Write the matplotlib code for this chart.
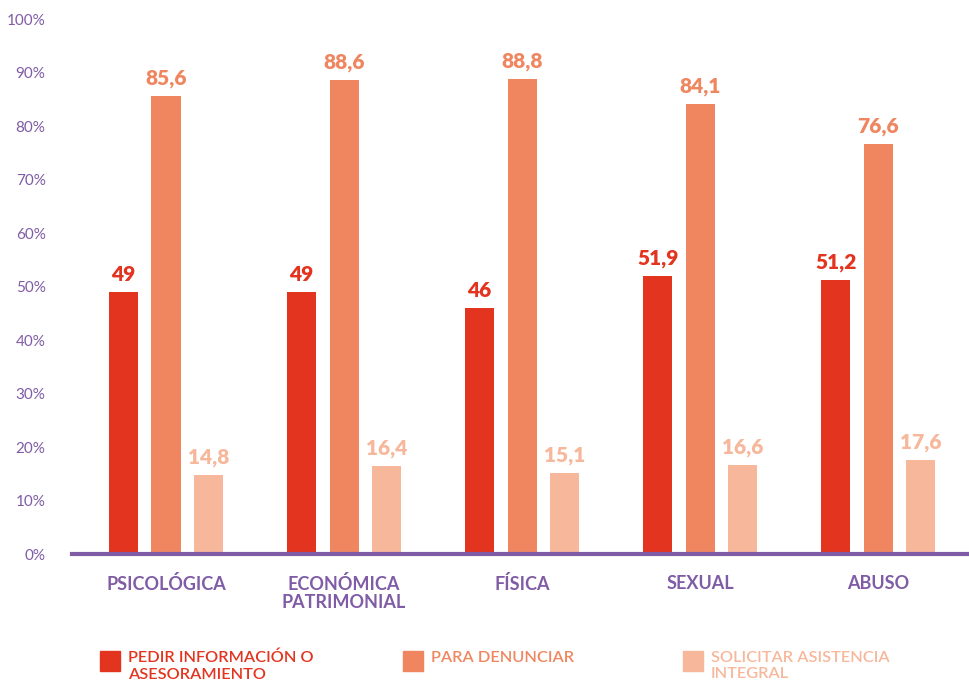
""" Motivos de consulta por tipo de violencia - barras agrupadas """

import numpy as np
import matplotlib
matplotlib.use("Agg")
import matplotlib.pyplot as plt
from matplotlib.patches import Rectangle

# data
categorias   = ["PSICOLÓGICA", "ECONÓMICA\nPATRIMONIAL", "FÍSICA", "SEXUAL", "ABUSO"]
pedir_info   = [49, 49, 46, 51.9, 51.2]
denunciar    = [85.6, 88.6, 88.8, 84.1, 76.6]
asistencia   = [14.8, 16.4, 15.1, 16.6, 17.6]
series_names = ["PEDIR INFORMACIÓN O\nASESORAMIENTO", "PARA DENUNCIAR",
                "SOLICITAR ASISTENCIA\nINTEGRAL"]
y_ticks      = [0, 10, 20, 30, 40, 50, 60, 70, 80, 90, 100]

RED    = "#E3341F"
ORANGE = "#EF8660"
PEACH  = "#F7B79B"
PURPLE = "#7F5CA5"
FONT   = "Lato"

plt.rcParams["font.family"] = [FONT, "DejaVu Sans"]

fig = plt.figure(figsize=(9.69, 6.9), dpi=100)
ax  = fig.add_axes([0.0743, 0.197, 0.9257, 0.7754])

x      = np.arange(len(categorias))
width  = 0.163
offset = 0.239
colors = [RED, ORANGE, PEACH]

for i, (vals, col) in enumerate(zip([pedir_info, denunciar, asistencia], colors)):
    pos  = x + (i - 1) * offset
    bars = ax.bar(pos, vals, width, color=col, zorder=2)
    for b, v in zip(bars, vals):
        txt = ("%g" % v).replace(".", ",")
        ax.text(b.get_x() + b.get_width() / 2, v + 1.5, txt, ha="center",
                va="bottom", color=col, fontsize=15, fontweight="heavy")

ax.set_xlim(-0.528, 4.51)
ax.set_ylim(0, 100)
ax.set_yticks(y_ticks)
ax.set_yticklabels(["%d%%" % t for t in y_ticks], color=PURPLE, fontsize=11)
ax.set_xticks(x)
ax.set_xticklabels(categorias, color=PURPLE, fontsize=13, fontweight="bold",
                   linespacing=1.05, va="top")
ax.tick_params(axis="both", length=0)
ax.tick_params(axis="x", pad=15)
ax.tick_params(axis="y", pad=19)
for side in ["top", "right", "left"]:
    ax.spines[side].set_visible(False)
ax.spines["bottom"].set_color(PURPLE)
ax.spines["bottom"].set_linewidth(3)
ax.spines["bottom"].set_zorder(3)

# legend, placed by hand
W, H = 969.0, 690.0
legend_x = [100, 403, 683]
for lx, col, name in zip(legend_x, colors, series_names):
    fig.add_artist(Rectangle((lx / W, 1 - 671 / H), 20 / W, 20 / H,
                             transform=fig.transFigure, color=col))
    fig.text((lx + 28) / W, 1 - 651 / H, name, color=col, fontsize=11.8,
             fontweight="semibold", va="top", ha="left", linespacing=1.2)

fig.savefig("out.png", dpi=100)
